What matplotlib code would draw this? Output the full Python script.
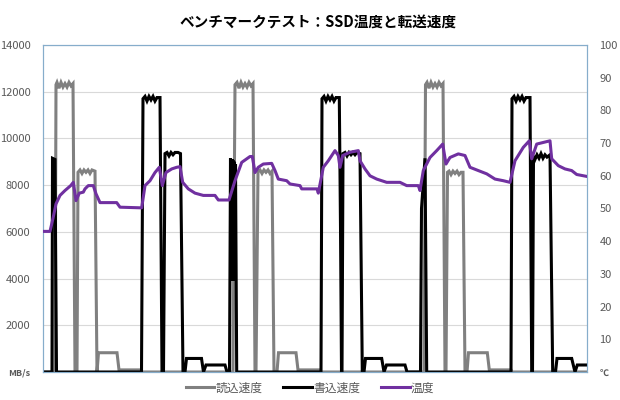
import matplotlib
matplotlib.use("Agg")
import matplotlib.pyplot as plt

plt.rcParams['font.family'] = ['Noto Sans CJK JP', 'DejaVu Sans']

title = "ベンチマークテスト：SSD温度と転送速度"
series_names = ["読込速度", "書込速度", "温度"]

# time index (s) and read speed (MB/s)
read_t = [0, 12, 13, 14, 16, 18, 20, 22, 24, 26, 28, 30, 32, 34, 35, 37, 39, 41, 43, 45, 47, 49, 52, 54,
          55.5, 74, 76, 97, 98,
          190, 192, 194, 196, 198, 200, 202, 204, 206, 208, 210, 212, 213, 215, 217, 219, 221, 223, 225,
          227, 229, 231, 234, 235.5, 253, 255, 277, 278,
          381, 382.5, 384, 386, 388, 390, 392, 394, 396, 398, 400, 402, 403, 404.5, 406, 408, 410, 412,
          414, 416, 418, 420, 422, 424, 425.5, 444.3, 446.3, 468, 469, 544]
read_v = [0, 0, 12300, 12400, 12150, 12400, 12200, 12350, 12200, 12400, 12250, 12350, 0, 0, 8550, 8650,
          8500, 8650, 8550, 8650, 8500, 8650, 8600, 0,
          825, 825, 90, 90, 0,
          0, 12300, 12400, 12150, 12400, 12200, 12350, 12200, 12400, 12250, 12350, 0, 0, 8600, 8650,
          8500, 8650, 8550, 8650, 8500, 8600, 0, 0, 825, 825, 90, 90, 0,
          0, 12300, 12400, 12150, 12400, 12200, 12350, 12200, 12400, 12250, 12350, 0, 0, 8550, 8600,
          8450, 8600, 8500, 8600, 8450, 8550, 8550, 0, 0, 825, 825, 90, 90, 0, 0]

# write speed (MB/s)
write_t = [0, 9, 9.5, 12, 13.5, 98.5, 100, 102, 104, 106, 108, 110, 112, 114, 117, 119, 120.5, 122, 124,
           126, 128, 130, 132, 135, 137.5, 140, 142, 143.5, 158.5, 160.5, 163, 182, 184,
           186.5, 187.5, 188, 188.5, 189, 189.5, 190, 190.5, 191, 191.5, 192, 192.5, 193.7,
           278, 279, 281, 283, 285, 287, 289, 291, 293, 296.3, 297.5, 298.5, 299, 300, 302, 304, 306,
           308, 310, 312, 314, 317, 319.3, 321, 322.5, 338.7, 341, 343.5, 362, 364,
           377.5, 378.5, 382, 383.7,
           468, 469, 471, 473, 475, 477, 479, 481, 483, 487, 488.7, 489.5, 490.5, 492, 494, 496, 498,
           500, 502, 504, 507, 509.7, 512.5, 514, 528.7, 532, 534.3, 544]
write_v = [0, 0, 9150, 9100, 0, 0, 11700, 11800, 11600, 11800, 11650, 11800, 11600, 11750, 11750, 0, 0,
           9350, 9400, 9250, 9400, 9300, 9400, 9400, 9350, 0, 0, 580, 580, 0, 300, 300, 0,
           0, 9150, 3900, 9100, 3900, 9100, 3900, 9050, 3900, 9000, 3900, 8900, 0,
           0, 11700, 11800, 11600, 11800, 11650, 11800, 11600, 11750, 11750, 6200, 0, 0, 9350, 9400,
           9250, 9400, 9300, 9400, 9300, 9400, 9350, 0, 0, 580, 580, 0, 300, 300, 0,
           0, 7000, 9150, 0,
           0, 11700, 11800, 11600, 11800, 11650, 11800, 11600, 11750, 11750, 0, 0, 9250, 9100, 9300,
           9150, 9350, 9150, 9300, 9200, 9300, 0, 0, 580, 580, 0, 300, 300]

# temperature (°C)
temp_t = [0, 7, 10, 13, 17, 22, 27.7, 30.3, 33, 36.3, 40.3, 42, 45.3, 50.3, 53, 57, 73.7, 77, 98.7,
          102, 107, 112, 116.3, 119.3, 123, 128.7, 133.7, 137, 139.7, 145.3, 152, 160.3, 172, 175.3,
          186, 192, 198.7, 207, 209.3, 212, 215.3, 220.3, 228.7, 232, 235.3, 243.7, 247, 257, 258.7,
          274, 275.3, 280.3, 285.3, 292, 295.3, 297, 299.7, 307, 315.3, 317, 322, 327, 333.7, 343.7,
          357, 363.7, 375.3, 377, 380.3, 387, 393.7, 399.7, 403, 407, 415.3, 422, 427, 435.3, 443.7,
          452, 460.3, 467, 472, 480.3, 486.3, 488.7, 493.7, 500.3, 507, 508.7, 515.3, 522, 528.7,
          533.7, 544]
temp_v = [43, 43, 47, 51.4, 54, 55.5, 57, 58, 52.4, 54.7, 55, 56, 57, 57, 54.5, 51.8, 51.8, 50.4, 50.2,
          57, 58.5, 61, 62.6, 57, 61, 62.1, 62.6, 62.8, 58, 56, 54.7, 54, 54, 52.6,
          52.6, 58.5, 64.1, 65.9, 65.9, 61, 62.6, 63.6, 63.8, 61.6, 59, 58.5, 57.5, 57, 56,
          56, 54.7, 62.6, 64.6, 67.7, 66.2, 62.6, 66.2, 67.2, 67.7, 64.6, 62.1, 60, 59, 58,
          58, 57, 57, 55.5, 61.6, 65.6, 67.7, 69.7, 63.6, 65.6, 66.7, 66.2, 62.6, 61.6, 60.6,
          59, 58.5, 58, 64.6, 68.7, 70.7, 65.2, 69.7, 70.2, 70.7, 65.2, 63.1, 62.1, 61.6,
          60.4, 59.8]

left_ticks = [0, 2000, 4000, 6000, 8000, 10000, 12000, 14000]
left_labels = ["MB/s", "2000", "4000", "6000", "8000", "10000", "12000", "14000"]
right_ticks = [0, 10, 20, 30, 40, 50, 60, 70, 80, 90, 100]
right_labels = ["℃", "10", "20", "30", "40", "50", "60", "70", "80", "90", "100"]

fig = plt.figure(figsize=(6.2, 4.0), dpi=100)
ax = fig.add_axes([43/620, 28/400, 544/620, 327/400])
ax2 = ax.twinx()

tick_color = '#595959'
spine_color = '#86ADCB'

l1, = ax.plot(read_t, read_v, color='#808080', lw=2.2, solid_joinstyle='miter', zorder=2)
l2, = ax.plot(write_t, write_v, color='#000000', lw=2.2, solid_joinstyle='miter', zorder=3)
l3, = ax2.plot(temp_t, temp_v, color='#7030A0', lw=2.2, zorder=4)

ax.set_xlim(0, 544)
ax.set_ylim(0, 14000)
ax2.set_ylim(0, 100)
ax.set_xticks([])
ax.set_yticks(left_ticks)
ax.set_yticklabels(left_labels)
ax2.set_yticks(right_ticks)
ax2.set_yticklabels(right_labels)
ax.grid(axis='y', color='#D9D9D9', lw=0.8, zorder=0)
ax.set_axisbelow(True)

ax.tick_params(axis='y', length=0, pad=9, labelsize=8, labelcolor=tick_color)
ax2.tick_params(axis='y', length=0, pad=9, labelsize=8, labelcolor=tick_color)
for lbl in ax.get_yticklabels():
    if lbl.get_text() == "MB/s":
        lbl.set_fontsize(6.5)
        lbl.set_fontweight('bold')
for lbl in ax2.get_yticklabels():
    if lbl.get_text() == "℃":
        lbl.set_fontsize(6.5)
        lbl.set_fontweight('bold')

for a in (ax, ax2):
    for s in a.spines.values():
        s.set_color(spine_color)
        s.set_linewidth(0.8)

fig.text(318/620, 1 - 22/400, title, ha='center', va='center', fontsize=10.5,
         fontweight='bold', color='#000000')

fig.legend([l1, l2, l3], series_names, loc='center', bbox_to_anchor=(310/620, 1 - 388/400),
           ncol=3, frameon=False, fontsize=8.5, handlelength=2.4, handletextpad=0.1,
           columnspacing=1.8, labelcolor=tick_color)

fig.savefig("out.png", dpi=100, facecolor='white')
